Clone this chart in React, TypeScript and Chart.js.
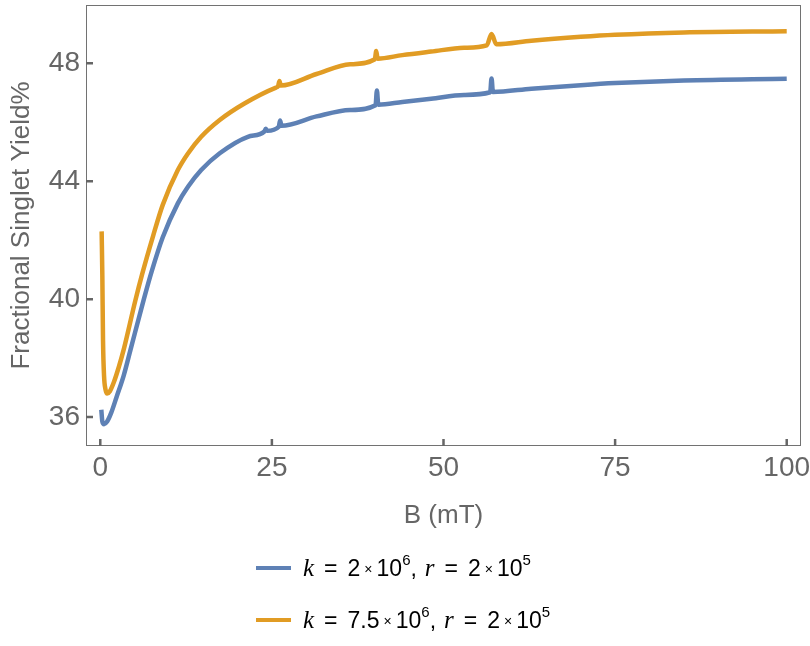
import React, { useEffect, useRef } from 'react';
import { Chart, registerables } from 'chart.js';
import type { ChartConfiguration, Plugin } from 'chart.js';

Chart.register(...registerables);

// B field (mT) and fractional singlet yield (%)
const blueField = [0.15, 0.3, 0.55, 1.0, 1.6, 2.4, 3.4, 4.4, 6.35, 7.5, 9.1, 11.3, 12.8, 14.7, 17.4, 21.5, 23.9, 24.1, 24.3, 26.0, 26.2, 26.4, 31.5, 36.4, 40.1, 40.3, 40.5, 44.0, 48.2, 53.0, 56.8, 57.0, 57.2, 62.8, 70.0, 75.0, 85.0, 100.0];
const blueYield = [36.25, 35.85, 35.76, 35.85, 36.15, 36.7, 37.4, 38.28, 40.0, 40.95, 42.1, 43.25, 43.82, 44.38, 44.95, 45.51, 45.69, 45.78, 45.71, 45.85, 46.06, 45.88, 46.2, 46.42, 46.58, 47.08, 46.6, 46.69, 46.8, 46.93, 47.02, 47.49, 47.03, 47.14, 47.26, 47.33, 47.42, 47.48];

const orangeField = [0.2, 0.3, 0.4, 0.55, 0.75, 1.0, 1.4, 2.0, 2.7, 3.4, 5.1, 6.1, 7.7, 9.1, 11.3, 12.8, 14.7, 17.4, 21.0, 25.6, 25.9, 26.1, 26.3, 31.5, 36.4, 40.0, 40.2, 40.4, 44.0, 48.2, 53.0, 56.3, 57.0, 57.7, 62.8, 70.0, 75.0, 85.0, 100.0];
const orangeYield = [42.3, 40.8, 38.6, 37.4, 36.95, 36.8, 36.88, 37.2, 37.7, 38.28, 39.95, 40.85, 42.15, 43.2, 44.38, 44.95, 45.51, 46.08, 46.64, 47.18, 47.22, 47.4, 47.25, 47.64, 47.97, 48.14, 48.42, 48.16, 48.28, 48.4, 48.53, 48.61, 49.0, 48.65, 48.77, 48.9, 48.97, 49.05, 49.09];

const xTicks = [0, 25, 50, 75, 100];
const yTicks = [36, 40, 44, 48];

// legend: k = a × 10^b, r = c × 10^d
const kMantissa = ['2', '7.5'];
const kExponent = ['6', '6'];
const rMantissa = ['2', '2'];
const rExponent = ['5', '5'];

const BLUE = '#5E81B5';
const ORANGE = '#E19C24';
const GRAY = '#666666';
const SANS = '"Liberation Sans", Arial, sans-serif';
const SERIF = '"Liberation Serif", "Times New Roman", serif';

const toPoints = (xs: number[], ys: number[]) => xs.map((x, i) => ({ x, y: ys[i] }));

// Mathematica-style frame with inward ticks
const frameTicks: Plugin<'line'> = {
  id: 'frameTicks',
  afterDraw(chart) {
    const { ctx, chartArea: a, scales } = chart;
    ctx.save();
    ctx.strokeStyle = '#727272';
    ctx.lineWidth = 1;
    ctx.strokeRect(a.left + 0.5, a.top + 0.5, a.right - a.left - 1, a.bottom - a.top - 1);
    ctx.strokeStyle = GRAY;
    ctx.lineWidth = 2.5;
    ctx.beginPath();
    scales.x.ticks.forEach((t) => {
      const px = scales.x.getPixelForValue(t.value);
      ctx.moveTo(px, a.bottom);
      ctx.lineTo(px, a.bottom - 7);
    });
    scales.y.ticks.forEach((t) => {
      const py = scales.y.getPixelForValue(t.value);
      ctx.moveTo(a.left, py);
      ctx.lineTo(a.left + 7, py);
    });
    ctx.stroke();
    ctx.restore();
  },
};

const LegendRow: React.FC<{ color: string; top: number; i: number }> = ({ color, top, i }) => (
  <>
    <div style={{ position: 'absolute', left: 256, top: top - 2, width: 35, height: 4, background: color }} />
    <div
      style={{
        position: 'absolute',
        left: 303,
        top: top - 16,
        height: 32,
        lineHeight: '32px',
        fontSize: 23,
        fontFamily: SANS,
        color: '#000',
        whiteSpace: 'nowrap',
      }}
    >
      <i style={{ fontFamily: SERIF, fontSize: 25 }}>k</i>
      <span style={{ margin: '0 10px' }}>=</span>
      {kMantissa[i]}
      <span style={{ fontSize: 14, margin: '0 4px', position: 'relative', top: -2 }}>×</span>
      10
      <span style={{ fontSize: 15, position: 'relative', top: -11 }}>{kExponent[i]}</span>
      ,
      <i style={{ fontFamily: SERIF, fontSize: 25, marginLeft: 8 }}>r</i>
      <span style={{ margin: '0 10px' }}>=</span>
      {rMantissa[i]}
      <span style={{ fontSize: 14, margin: '0 4px', position: 'relative', top: -2 }}>×</span>
      10
      <span style={{ fontSize: 15, position: 'relative', top: -11 }}>{rExponent[i]}</span>
    </div>
  </>
);

const App: React.FC = () => {
  const chartRef = useRef<HTMLCanvasElement>(null);
  const chartInstanceRef = useRef<Chart | null>(null);

  useEffect(() => {
    document.body.style.margin = '0';
    if (!chartRef.current) return;
    if (chartInstanceRef.current) chartInstanceRef.current.destroy();

    const config: ChartConfiguration<'line'> = {
      type: 'line',
      data: {
        datasets: [
          {
            label: 'k = 7.5×10^6, r = 2×10^5',
            data: toPoints(orangeField, orangeYield),
            borderColor: ORANGE,
            borderWidth: 4.5,
            pointRadius: 0,
            cubicInterpolationMode: 'monotone',
            borderJoinStyle: 'round',
          },
          {
            label: 'k = 2×10^6, r = 2×10^5',
            data: toPoints(blueField, blueYield),
            borderColor: BLUE,
            borderWidth: 4.5,
            pointRadius: 0,
            cubicInterpolationMode: 'monotone',
            borderJoinStyle: 'round',
          },
        ],
      },
      options: {
        responsive: true,
        maintainAspectRatio: false,
        animation: false,
        layout: { padding: { top: 5, right: 9, bottom: 100, left: 0 } },
        plugins: {
          legend: { display: false },
          tooltip: { enabled: false },
        },
        scales: {
          x: {
            type: 'linear',
            min: -2.08,
            max: 102.08,
            afterBuildTicks: (s) => {
              s.ticks = xTicks.map((value) => ({ value }));
            },
            afterFit: (s) => {
              s.height = 100;
              s.paddingLeft = 0;
              s.paddingRight = 0;
            },
            grid: { display: false, drawTicks: false },
            border: { display: false },
            ticks: { color: GRAY, font: { family: SANS, size: 28 }, padding: 5 },
            title: {
              display: true,
              text: 'B (mT)',
              color: GRAY,
              font: { family: SANS, size: 26 },
              padding: { top: 0, bottom: 15 },
            },
          },
          y: {
            type: 'linear',
            min: 35.02,
            max: 49.98,
            afterBuildTicks: (s) => {
              s.ticks = yTicks.map((value) => ({ value }));
            },
            afterFit: (s) => {
              s.width = 86;
              s.paddingTop = 0;
              s.paddingBottom = 0;
            },
            grid: { display: false, drawTicks: false },
            border: { display: false },
            ticks: { color: GRAY, font: { family: SANS, size: 28 }, padding: 6 },
            title: {
              display: true,
              text: 'Fractional Singlet Yield%',
              color: GRAY,
              font: { family: SANS, size: 26 },
              padding: { top: 6, bottom: 0 },
            },
          },
        },
      },
      plugins: [frameTicks],
    };

    chartInstanceRef.current = new Chart(chartRef.current, config);

    return () => {
      if (chartInstanceRef.current) {
        chartInstanceRef.current.destroy();
        chartInstanceRef.current = null;
      }
    };
  }, []);

  return (
    <div style={{ position: 'relative', width: 810, height: 646, background: '#fff' }}>
      <canvas ref={chartRef}></canvas>
      <LegendRow color={BLUE} top={568} i={0} />
      <LegendRow color={ORANGE} top={620} i={1} />
    </div>
  );
};

export default App;
